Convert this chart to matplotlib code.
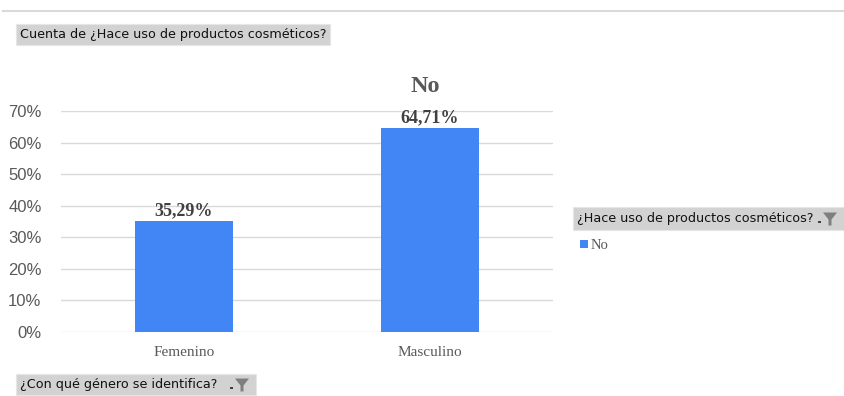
import matplotlib.pyplot as plt
from matplotlib.patches import Rectangle, Polygon
from matplotlib.ticker import PercentFormatter

categories = ["Femenino", "Masculino"]
no_values = [0.3529, 0.6471]
value_labels = ["35,29%", "64,71%"]
series_name = "No"
field_title = "Cuenta de ¿Hace uso de productos cosméticos?"
legend_title = "¿Hace uso de productos cosméticos?"
axis_field = "¿Con qué género se identifica?"

W, H = 844, 396
fig = plt.figure(figsize=(W / 100, H / 100), dpi=100)
fig.patch.set_facecolor("white")

bar_color = "#4285F4"
ax = fig.add_axes([61 / W, 1 - 332 / H, (553 - 61) / W, (332 - 111) / H])
x = list(range(len(categories)))
bars = ax.bar(x, no_values, width=0.4, color=bar_color, zorder=3)
ax.set_xlim(-0.5, 1.5)
ax.set_ylim(0, 0.7)
ax.set_yticks([i / 10 for i in range(8)])
ax.yaxis.set_major_formatter(PercentFormatter(1.0, decimals=0))
ax.grid(axis="y", color="#d9d9d9", linewidth=1, zorder=0)
for s in ax.spines.values():
    s.set_visible(False)
ax.tick_params(axis="both", length=0)
ax.tick_params(axis="y", labelsize=12, labelcolor="#595959", pad=14)
for lab in ax.get_yticklabels():
    lab.set_fontfamily("Liberation Sans")
ax.set_xticks(x)
ax.set_xticklabels(categories, fontfamily="Liberation Serif", fontsize=11, color="#595959")
ax.tick_params(axis="x", pad=10)

for b, lab in zip(bars, value_labels):
    ax.annotate(lab, (b.get_x() + b.get_width() / 2, b.get_height()),
                xytext=(0, 1), textcoords="offset points", ha="center", va="bottom",
                fontfamily="Liberation Serif", fontweight="bold", fontsize=13, color="#404040")

fig.text(425 / W, 1 - 87 / H, series_name, ha="center", va="center",
         fontfamily="Liberation Serif", fontweight="bold", fontsize=17.5, color="#595959")

# top separator line
fig.add_artist(plt.Line2D([3 / W, 1], [1 - 11 / H, 1 - 11 / H], color="#d9d9d9", linewidth=1.5))


def field_box(x0, y0, x1, y1, text, funnel=False):
    fig.add_artist(Rectangle((x0 / W, 1 - y1 / H), (x1 - x0) / W, (y1 - y0) / H,
                             facecolor="#d2d2d2", edgecolor="#e6e6e6", linewidth=0.8,
                             transform=fig.transFigure))
    fig.text((x0 + 4) / W, 1 - (y0 + y1) / 2 / H, text, ha="left", va="center",
             fontfamily="DejaVu Sans", fontsize=9.2, color="#111111")
    if funnel:
        fx = x1 - 14
        cy = (y0 + y1) / 2
        pts = [(fx - 7, cy - 6), (fx + 7, cy - 6), (fx + 1.5, cy + 1), (fx + 1.5, cy + 7),
               (fx - 1.5, cy + 7), (fx - 1.5, cy + 1)]
        fig.add_artist(Polygon([(px / W, 1 - py / H) for px, py in pts], closed=True,
                               facecolor="#7f7f7f", edgecolor="none", transform=fig.transFigure))
        fig.add_artist(Rectangle(((fx - 12) / W, 1 - (cy + 4) / H), 3 / W, 1.5 / H,
                                 facecolor="#404040", edgecolor="none", transform=fig.transFigure))


field_box(16, 24, 330, 45, field_title)
field_box(573, 207, 844, 230, legend_title, funnel=True)
field_box(16, 374, 256, 395, axis_field, funnel=True)

# legend
fig.add_artist(Rectangle((580 / W, 1 - 248 / H), 8 / W, 8 / H, facecolor=bar_color,
                         edgecolor="none", transform=fig.transFigure))
fig.text(591 / W, 1 - 245 / H, series_name, ha="left", va="center",
         fontfamily="Liberation Serif", fontsize=10.5, color="#595959")

fig.savefig("out.png", dpi=100)
